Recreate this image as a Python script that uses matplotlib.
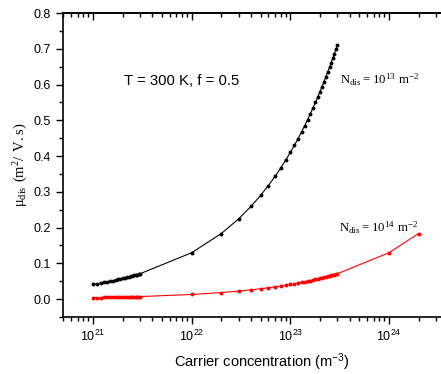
import numpy as np
import matplotlib.pyplot as plt
from matplotlib.ticker import LogLocator, MultipleLocator, FixedLocator, FuncFormatter

# carrier concentration, in units of 1e21 m^-3
conc_dense = [1.0, 1.1, 1.2, 1.3, 1.4, 1.5, 1.6, 1.7, 1.8, 1.9, 2.0,
              2.1, 2.2, 2.3, 2.4, 2.5, 2.6, 2.7, 2.8, 2.9, 3.0]
conc_coarse = [10, 20, 30, 40, 50, 60, 70, 80, 90, 100, 110, 120, 130, 140, 150,
               160, 170, 180, 190, 200, 210, 220, 230, 240, 250, 260, 270, 280, 290, 300]
conc_high = [1000, 2000]

# mobility (m^2/V.s), N_dis = 1e13 m^-2
mu_13_dense = [0.0410, 0.0430, 0.0449, 0.0467, 0.0485, 0.0502, 0.0519, 0.0535, 0.0550,
               0.0565, 0.0580, 0.0594, 0.0608, 0.0622, 0.0635, 0.0648, 0.0661, 0.0674,
               0.0686, 0.0698, 0.0710]
mu_13_coarse = [0.1297, 0.1834, 0.2246, 0.2593, 0.2899, 0.3176, 0.3430, 0.3667, 0.3890,
                0.4100, 0.4300, 0.4491, 0.4675, 0.4851, 0.5021, 0.5186, 0.5346, 0.5501,
                0.5651, 0.5798, 0.5941, 0.6081, 0.6218, 0.6352, 0.6483, 0.6611, 0.6737,
                0.6861, 0.6982, 0.7101]

# N_dis = 1e14 m^-2
mu_14_dense = [0.0041, 0.0043, 0.0045, 0.0047, 0.0049, 0.0050, 0.0052, 0.0054, 0.0055,
               0.0057, 0.0058, 0.0059, 0.0061, 0.0062, 0.0064, 0.0065, 0.0066, 0.0067,
               0.0069, 0.0070, 0.0071]
mu_14_coarse = [0.0130, 0.0183, 0.0225, 0.0259, 0.0290, 0.0318, 0.0343, 0.0367, 0.0389,
                0.0410, 0.0430, 0.0449, 0.0468, 0.0485, 0.0502, 0.0519, 0.0535, 0.0550,
                0.0565, 0.0580, 0.0594, 0.0608, 0.0622, 0.0635, 0.0648, 0.0661, 0.0674,
                0.0686, 0.0698, 0.0710]
mu_14_high = [0.1297, 0.1834]

x13 = np.array(conc_dense + conc_coarse) * 1e21
y13 = mu_13_dense + mu_13_coarse
x14 = np.array(conc_dense + conc_coarse + conc_high) * 1e21
y14 = mu_14_dense + mu_14_coarse + mu_14_high

sans = "Liberation Sans"
serif = "Liberation Serif"
decades = [1e21, 1e22, 1e23, 1e24]

fig = plt.figure(figsize=(4.41, 3.74), dpi=100)
ax = fig.add_axes([0.1429, 0.1524, 0.9, 0.8128])

ax.plot(x13, y13, color="black", lw=0.8, marker="o", ms=1.8)
ax.plot(x14, y14, color="red", lw=0.8, marker="o", ms=1.8)

ax.set_xscale("log")
ax.set_xlim(10 ** 20.696, 10 ** 24.72)
ax.set_ylim(-0.05, 0.8)

ax.xaxis.set_major_locator(FixedLocator(decades))
ax.xaxis.set_minor_locator(LogLocator(base=10, subs=np.arange(2, 10), numticks=20))
ax.xaxis.set_major_formatter(
    FuncFormatter(lambda v, p: r"$\mathregular{10^{%d}}$" % round(np.log10(v))))
ax.yaxis.set_major_locator(MultipleLocator(0.1))
ax.yaxis.set_minor_locator(MultipleLocator(0.05))
ax.yaxis.set_major_formatter(FuncFormatter(lambda v, p: "%.1f" % v))

ax.tick_params(axis="both", which="major", direction="out", length=5, width=1,
               labelsize=9)
ax.tick_params(axis="both", which="minor", direction="out", length=3, width=1)

# top axis: mirrored ticks pointing inward, no labels
secx = ax.secondary_xaxis("top")
secx.set_xscale("log")
secx.xaxis.set_major_locator(FixedLocator(decades))
secx.xaxis.set_minor_locator(LogLocator(base=10, subs=np.arange(2, 10), numticks=20))
secx.tick_params(axis="x", which="major", direction="in", length=5, width=1,
                 labeltop=False)
secx.tick_params(axis="x", which="minor", direction="in", length=3, width=1)

for lab in ax.get_xticklabels() + ax.get_yticklabels():
    lab.set_fontfamily(sans)

for s in ax.spines.values():
    s.set_linewidth(1.2)
secx.spines["top"].set_linewidth(1.2)

ax.set_xlabel(r"Carrier concentration (m$\mathregular{^{-3}}$)", fontsize=10.5,
              fontfamily=sans, labelpad=5)
ax.set_ylabel(r"$\mathregular{μ_{dis}\ (m^{2}/\ V{.}s)}$", fontsize=10.5,
              fontfamily=serif, labelpad=3)

ax.text(2.06e21, 0.60, "T = 300 K, f = 0.5", fontsize=10.7, fontfamily=sans)
ax.text(3.2e23, 0.603, r"$\mathregular{N_{dis}= 10^{13}\ m^{-2}}$", fontsize=9.2,
        fontfamily=serif)
ax.text(3.15e23, 0.188, r"$\mathregular{N_{dis}= 10^{14}\ m^{-2}}$", fontsize=9.2,
        fontfamily=serif)

fig.savefig("out.png", dpi=100)
